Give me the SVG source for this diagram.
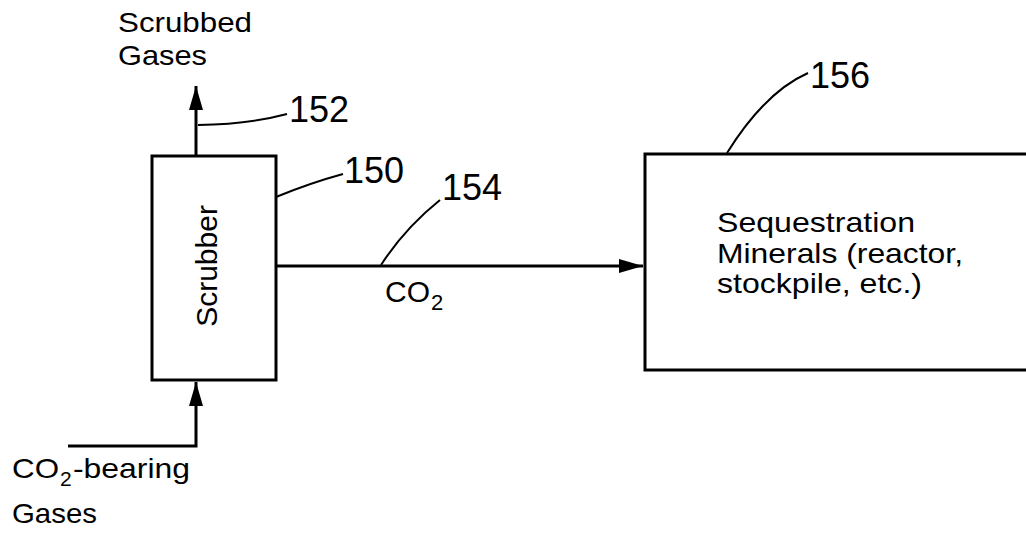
<svg xmlns="http://www.w3.org/2000/svg" width="1026" height="541" viewBox="0 0 1026 541">
<style>
text{font-family:"Liberation Sans",Arial,sans-serif;fill:#000}
.lbl{font-size:28px}
.num{font-size:36px}
.box{fill:#fff;stroke:#000;stroke-width:3}
.flow{fill:none;stroke:#000;stroke-width:3}
.lead{fill:none;stroke:#000;stroke-width:2}
</style>
<defs>
<marker id="ah" markerUnits="userSpaceOnUse" markerWidth="26" markerHeight="16" viewBox="0 0 26 16" refX="24" refY="8" orient="auto">
<path d="M0,1 L24,8 L0,15 Z" fill="#000"/>
</marker>
</defs>
<rect width="1026" height="541" fill="#fff"/>
<g id="connectors">
<path class="flow" d="M196,156 V86" marker-end="url(#ah)"/>
<path class="flow" d="M68,446 H196 V382" marker-end="url(#ah)"/>
<path class="flow" d="M276,266 H643" marker-end="url(#ah)"/>
<path class="lead" d="M198,125 Q250,124 287,114"/>
<path class="lead" d="M276,197 Q310,183 343,174"/>
<path class="lead" d="M381,265 Q405,228 440,200"/>
<path class="lead" d="M727,153 Q765,92 808,73"/>
<text class="num" x="289" y="122">152</text>
<text class="num" x="344" y="183">150</text>
<text class="num" x="442" y="200">154</text>
<text class="num" x="810" y="88">156</text>
<text x="385" y="302" style="font-size:30px">CO</text>
<text x="431" y="310" style="font-size:22px">2</text>
</g>
<g id="scrubber">
<rect class="box" x="152" y="156" width="124" height="224"/>
<text class="lbl" transform="translate(217,266) rotate(-90)" text-anchor="middle" style="font-size:30px">Scrubber</text>
</g>
<g id="sequestration">
<rect class="box" x="645" y="154" width="390" height="216"/>
<text class="lbl" x="717" y="232" textLength="198" lengthAdjust="spacingAndGlyphs">Sequestration</text>
<text class="lbl" x="717" y="263" textLength="246" lengthAdjust="spacingAndGlyphs">Minerals (reactor,</text>
<text class="lbl" x="717" y="293" textLength="205" lengthAdjust="spacingAndGlyphs">stockpile, etc.)</text>
</g>
<g id="scrubbed-gases">
<text class="lbl" x="118" y="32" textLength="134" lengthAdjust="spacingAndGlyphs">Scrubbed</text>
<text class="lbl" x="118" y="65" textLength="89" lengthAdjust="spacingAndGlyphs">Gases</text>
</g>
<g id="co2-bearing-gases">
<text class="lbl" x="12" y="478" textLength="47" lengthAdjust="spacingAndGlyphs">CO</text>
<text x="60" y="486" style="font-size:21px">2</text>
<text class="lbl" x="73" y="478" textLength="117" lengthAdjust="spacingAndGlyphs">-bearing</text>
<text class="lbl" x="12" y="523" textLength="85" lengthAdjust="spacingAndGlyphs">Gases</text>
</g>
</svg>
